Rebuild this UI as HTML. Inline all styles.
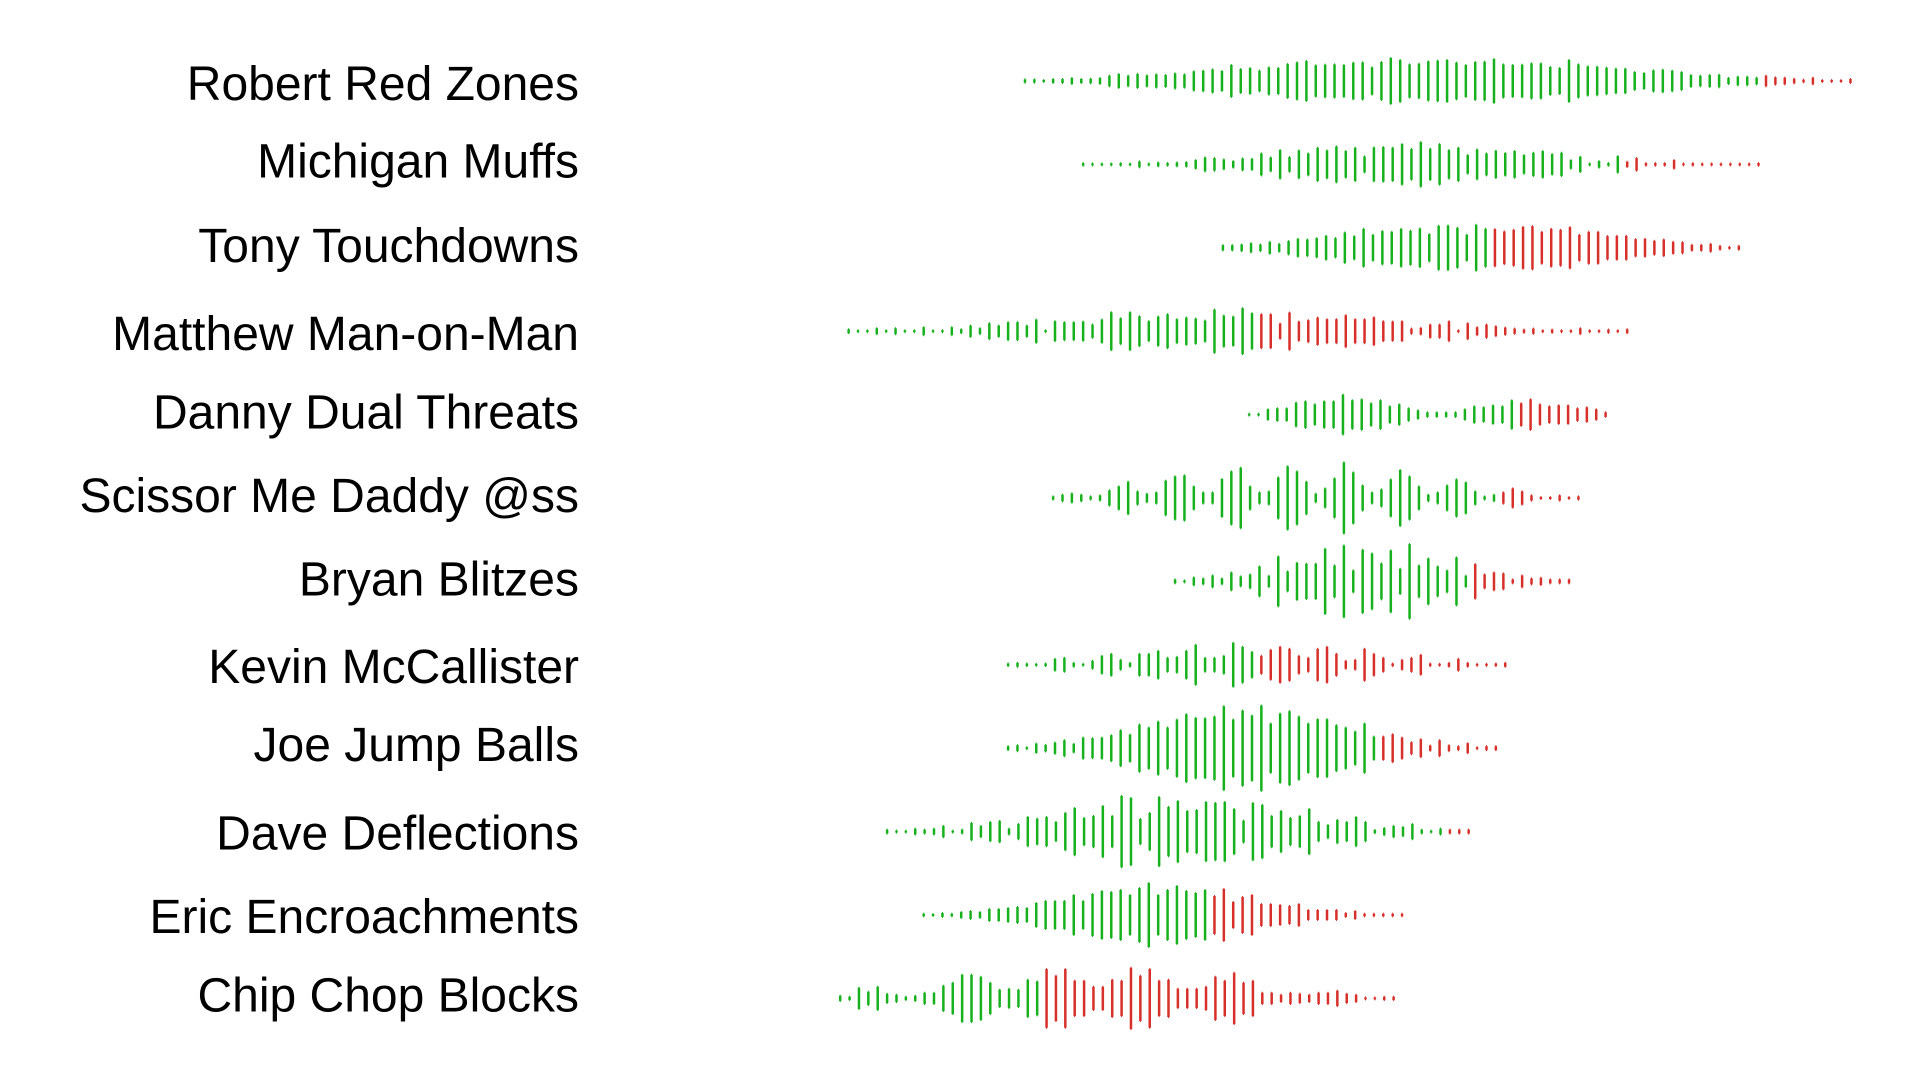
<!DOCTYPE html>
<html><head><meta charset="utf-8"><style>
html,body{margin:0;padding:0;background:#fff;}
svg{display:block;}
text{font-family:"Liberation Sans",Arial,sans-serif;font-size:48px;fill:#000;}
</style></head>
<body>
<svg id="chart" width="1920" height="1080" viewBox="0 0 1920 1080" xmlns="http://www.w3.org/2000/svg">
<rect width="1920" height="1080" fill="#fff"/>
<g id="labels"></g>
<g id="bars"></g>
</svg>
<script>
const teams = ["Robert Red Zones","Michigan Muffs","Tony Touchdowns","Matthew Man-on-Man","Danny Dual Threats","Scissor Me Daddy @ss","Bryan Blitzes","Kevin McCallister","Joe Jump Balls","Dave Deflections","Eric Encroachments","Chip Chop Blocks"];
const labelShift = [1,-5,-4,1,-4,-4,-4,0,-5,0,0,-5];
const startIndex = [19.7,25.9,40.8,0.9,43.6,22.7,35.7,17.9,17.9,5.0,8.9,0];
const greenVals = [
[5,5,3,6,6,9,6,7,9,16,21,16,21,17,20,18,23,20,29,31,35,30,48,36,39,31,41,39,51,56,60,47,49,50,48,55,56,41,57,69,63,50,52,59,61,63,55,48,57,58,66,50,48,49,53,53,42,39,63,50,44,43,40,37,37,27,24,32,34,31,27,18,16,18,19,9,13,13,10],
[4,3,3,3,4,3,9,3,6,4,6,7,13,21,19,15,10,18,17,33,21,43,22,42,33,50,42,54,40,50,24,51,52,50,61,46,67,47,61,43,50,28,45,33,41,34,40,28,35,40,31,35,13,23,3,10,4,25],
[8,8,10,14,10,18,12,20,27,25,29,36,29,46,35,57,39,50,48,57,51,58,41,66,67,60,39,69,57],
[6,2,2,9,2,9,2,2,12,2,2,12,6,17,9,24,17,27,27,17,35,3,30,27,27,29,20,35,57,39,57,45,30,44,51,36,41,38,32,65,47,44,69,54],
[3,3,16,19,19,36,40,31,40,40,60,43,46,34,43,25,31,19,13,7,7,7,7,16,25,22,28,25,43],
[5,10,14,10,5,8,23,35,49,20,13,17,52,65,68,35,17,17,57,80,91,35,17,20,62,95,80,49,13,29,59,107,77,38,17,26,56,84,65,35,10,17,38,56,47,20,5,10],
[6,2,12,9,18,9,27,15,21,45,17,75,30,56,53,53,98,48,108,33,95,84,54,93,38,112,48,69,45,33,72,17],
[4,6,4,2,4,18,21,6,2,12,27,33,15,6,33,33,42,21,24,42,60,21,21,27,66,54,39],
[6,9,2,14,10,17,24,13,32,30,32,39,54,41,71,62,80,62,86,102,91,90,95,126,86,113,98,128,74,104,111,95,74,87,87,69,62,50,74,35],
[6,2,2,9,6,9,17,2,6,26,17,29,32,9,23,44,39,44,29,56,71,41,47,77,47,107,101,38,56,104,74,92,62,65,89,86,89,68,33,86,80,47,62,41,47,68,29,20,35,29,44,29,5,11,17,14,23,6,2,9],
[4,2,6,4,9,12,9,18,18,21,24,21,36,42,42,42,60,42,63,72,69,75,60,81,96,60,75,87,72,66,75],
[8,5,32,20,35,14,11,5,8,17,17,38,47,71,71,65,47,26,29,26,56,51]
];
const redVals = [
[16,11,10,7,4,10,3,3,3,6],
[8,19,4,4,4,13,2,4,3,3,3,3,3,3,4],
[56,49,54,63,65,48,57,54,62,39,48,48,35,36,36,26,27,21,25,18,17,9,9,12,6,2,6],
[51,51,23,56,29,33,41,36,36,48,36,36,42,30,29,30,8,10,20,20,30,2,24,12,20,15,11,8,5,8,2,5,2,2,9,2,2,5,2,6],
[34,46,31,25,28,28,19,22,16,7],
[17,29,20,8,2,2,8,2,5],
[52,21,27,24,6,18,9,11,6,6,6],
[27,45,54,48,27,21,48,54,33,12,15,48,33,21,4,15,21,30,4,2,6,18,6,2,2,4,6],
[35,42,32,18,27,8,24,9,6,15,2,6,6],
[6,6,6],
[57,78,39,54,60,33,33,30,27,33,15,15,15,15,6,12,4,4,4,4,4],
[88,68,88,53,53,35,35,56,53,92,68,88,53,56,29,29,29,35,65,53,77,47,53,17,17,11,17,14,11,17,17,23,14,11,2,2,5,5]
];
const NS="http://www.w3.org/2000/svg";
const X0=840.2, STEP=9.38, Y0=81, ROWSTEP=83.4, LABEL_X=579;
function xPos(row,i){return X0+(startIndex[row]+i)*STEP;}
function yPos(row){return Y0+row*ROWSTEP;}
function hScale(v){return Math.max(v/3,1);}
const lg=document.getElementById('labels'), bg=document.getElementById('bars');
teams.forEach((t,r)=>{
  const tx=document.createElementNS(NS,'text');
  tx.setAttribute('x',LABEL_X);tx.setAttribute('y',yPos(r)+18+labelShift[r]);
  tx.setAttribute('text-anchor','end');tx.textContent=t;
  
  
  lg.appendChild(tx);
  const row=document.createElementNS(NS,'g');
  
  
  bg.appendChild(row);
  const all=greenVals[r].map(v=>[v,'#16b11c']).concat(redVals[r].map(v=>[v,'#d7302a']));
  all.forEach((d,i)=>{
    const h=hScale(d[0]);const x=xPos(r,i);const yc=yPos(r);
    const rc=document.createElementNS(NS,'rect');
    rc.setAttribute('x',x-1.25);rc.setAttribute('y',yc-h);
    rc.setAttribute('width',2.5);rc.setAttribute('height',2*h);
    rc.setAttribute('fill',d[1]);
    
    
    row.appendChild(rc);
    const tip=document.createElementNS(NS,'rect');
    tip.setAttribute('x',x-0.5);tip.setAttribute('y',yc-h-1);
    tip.setAttribute('width',1);tip.setAttribute('height',2*h+2);
    tip.setAttribute('fill',d[1]);
    
    
    row.appendChild(tip);
  });
});
</script>
</body></html>
